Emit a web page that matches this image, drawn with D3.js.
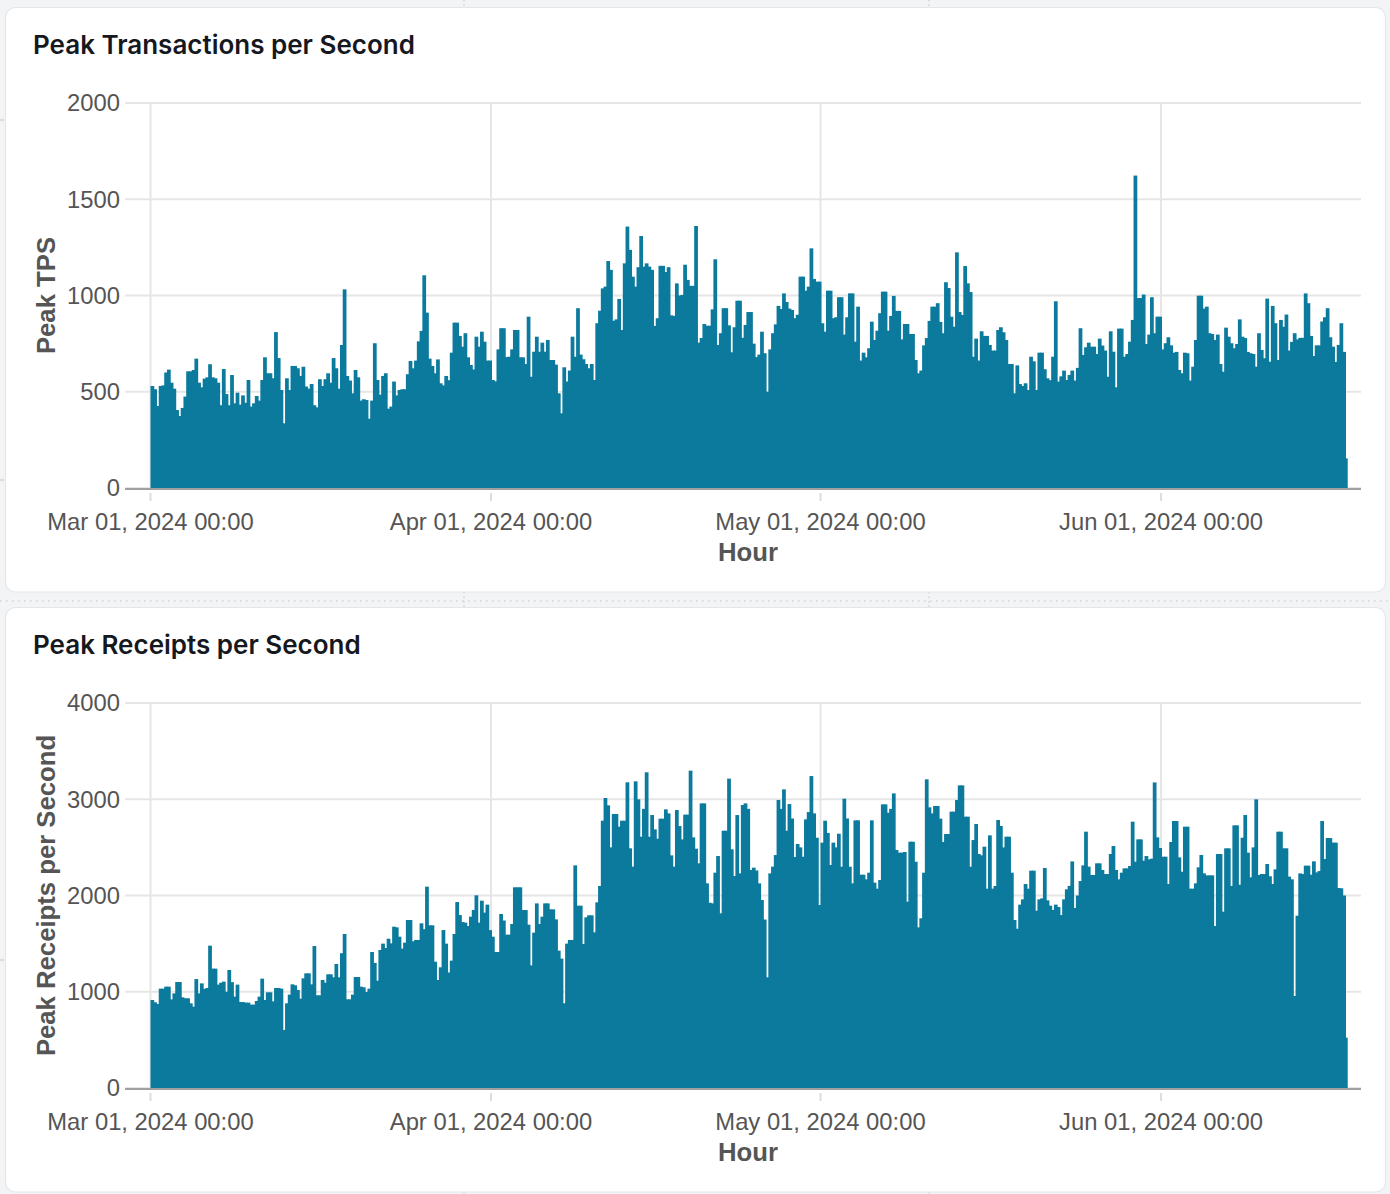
<!DOCTYPE html>
<html><head><meta charset="utf-8">
<script src="https://cdn.jsdelivr.net/npm/d3@7"></script>
<style>
html,body{margin:0;padding:0;background:#f3f4f6;}
svg{display:block;}
</style></head><body>
<svg id="chart" width="1390" height="1194"></svg>
<script>
// 6-hour bins starting 2024-03-01 00:00 UTC
const binHours = 6;
const seriesStart = "2024-03-01T00:00:00Z";

const tpsMar = [530,513,426,530,533,600,615,547,516,405,
374,416,475,606,606,613,672,547,523,568,
575,643,575,570,547,430,618,488,430,587,
440,495,433,481,443,561,423,440,478,454,
561,679,596,596,570,810,675,509,336,570,
509,634,634,622,582,630,527,516,540,430,
419,565,530,565,596,547,675,622,516,743,
1032,582,558,492,613,575,454,461,457,360,
454,752,561,485,582,596,412,423,553,481,
509,513,513,591,660,622,662,762,816,1105,
911,672,634,596,668,544,533,582,560,703,
859,859,790,734,804,679,639,616,786,734,
812,760,662,662];
const tpsApr = [561,554,720,830,830,680,
682,720,821,821,679,679,644,890,578,708,
786,708,755,708,769,665,665,641,492,388,
627,553,610,786,682,934,693,669,644,622,
644,561,856,921,1037,1046,1179,1133,869,876,
982,821,1167,1358,1237,1098,1046,1147,1309,1150,
1167,1150,1133,842,882,1154,1154,1122,1147,897,
894,1063,1000,1003,1160,1081,1050,1050,1361,755,
779,852,843,843,928,1188,743,804,934,934,
845,705,835,973,973,
780,847,914,914,750,
680,693,812,700,500,720,804,850,946,930,
1011,966,932,925,882,900,1098,1098,1025,1046,
1245,1086,1072,1072];
const tpsMay = [856,812,1025,1025,882,887,
991,991,797,887,1011,1011,760,942,662,703,
679,726,864,769,817,908,1020,1020,817,894,
998,920,920,772,852,852,800,800,665,596,
610,741,779,868,942,942,960,863,804,1069,
1039,890,838,1224,914,899,1153,1063,1018,682,
776,662,814,790,790,743,714,714,821,835,
809,769,644,644,492,637,540,530,544,509,
682,658,509,703,
703,617,570,560,682,970,
553,580,610,561,587,610,558,624,830,691,
731,755,734,734,696,776,740,714,578,814,
708,523,828,828,682,696,760,873,1623,987,
987,1005,748,797,991,804,890,890];
const tpsJun = [720,752,
783,741,703,707,613,596,703,700,558,630,
769,999,999,932,942,804,800,769,797,644,
604,833,786,752,726,748,876,786,779,707,
700,696,630,804,717,674,984,656,946,856,
665,873,838,901,714,759,804,772,
780,780,1011,960,790,686,741,741,865,887,934,
783,734,655,743,856,707,154];

const rpsMar = [914,890,873,1032,1032,1053,1053,921,983,1101,
1101,942,932,932,880,845,1132,983,1087,1030,
1039,1479,1240,1240,1074,1094,1105,1000,1226,1100,
949,1074,893,893,887,887,866,866,904,949,
1136,914,994,994,900,1039,1039,1032,603,880,
970,1077,1067,1018,928,1139,1191,1191,1077,1475,
963,963,1122,1094,1181,1181,1150,1288,1150,1400,
1600,921,921,970,1153,1153,1053,1046,997,1032,
1413,1300,1115,1434,1500,1454,1551,1503,1676,1669,
1572,1448,1510,1745,1745,1524,1538,1538,1711,1650,
2092,1690,1690,1312,1122,1254,1641,1500,1200,1323,
1600,1932,1797,1724,1718,1683,1780,1850,2002,1718,
1946,1822,1905,1640];
const rpsApr = [1572,1413,1413,1808,1740,1593,
1593,1704,2085,2085,2085,1849,1849,1697,1274,1614,
1918,1704,1780,1918,1918,1856,1856,1752,1427,1344,
880,1500,1538,1538,2313,1894,1894,1496,1773,1794,
1794,1617,1929,2099,2777,3013,2937,2500,2847,2847,
2715,2777,2777,3176,2490,2300,3186,2999,2611,2900,
3280,2611,2836,2687,2590,2798,2798,2895,2853,2417,
2300,2888,2722,2583,2840,2840,3297,2604,2486,2334,
2957,2957,2126,1925,1918,2237,2410,1815,2673,2673,
3214,2480,2202,2836,2230,
2940,2957,2900,2265,2289,
2260,2126,1953,1750,1150,2230,2300,2420,2992,2900,
3103,2673,2950,2800,2400,2535,2500,2403,2791,2867,
3241,2853,2600,1901];
const rpsMay = [2549,2777,2650,2317,2549,2500,
2642,2299,3006,2800,2299,2126,2781,2781,2216,2216,
2168,2237,2781,2133,2071,2161,2947,2947,2860,2900,
3061,2473,2445,2445,2452,1936,2559,2559,2351,1669,
1763,2237,3207,2916,2853,2930,2930,2798,2556,2639,
2639,2871,2871,2992,3144,3144,2819,2819,2299,2576,
2743,2431,2417,2507,2071,2625,2071,2099,2784,2722,
2500,2611,2611,2237,1745,1655,1905,1960,2119,2071,
2258,2258,1842,1960,
1970,2286,1950,1894,1850,1905,
1880,1797,1960,2064,2100,2354,1870,2000,2150,2313,
2663,2300,2213,2213,2334,2334,2265,2223,2223,2431,
2514,2265,2168,2237,2282,2282,2306,2767,2351,2583,
2583,2362,2410,2376,2383,3175,2604,2493];
const rpsJun = [2403,2403,
2119,2556,2774,2774,2396,2247,2715,2715,2071,2071,
2126,2293,2421,2230,2209,2209,2209,1683,2431,2431,
1832,2490,2490,2100,2729,2729,2112,2600,2836,2445,
2189,2500,2999,2213,2223,2223,2327,2200,2119,2272,
2663,2663,2490,2490,2196,2168,956,1790,2230,2223,
2310,2310,2216,2355,2240,2254,2774,2379,2597,2597,
2549,2549,2078,2075,2000,523];

const monthTicks = ["2024-03-01T00:00:00Z","2024-04-01T00:00:00Z","2024-05-01T00:00:00Z","2024-06-01T00:00:00Z"];
const tpsTicks = [0,500,1000,1500,2000];
const rpsTicks = [0,1000,2000,3000,4000];
const titles = ["Peak Transactions per Second","Peak Receipts per Second"];
const yTitles = ["Peak TPS","Peak Receipts per Second"];
const xTitle = "Hour";

const panels = [
  {title: titles[0], yTitle: yTitles[0], values: [...tpsMar,...tpsApr,...tpsMay,...tpsJun], ticks: tpsTicks},
  {title: titles[1], yTitle: yTitles[1], values: [...rpsMar,...rpsApr,...rpsMay,...rpsJun], ticks: rpsTicks}
];

const svg = d3.select("#chart");
const W = 1390, H = 1194;
const barColor = "#0b7a9d";
const gridColor = "#e6e6e6";
const labelColor = "#555555";
const tickFont = "'Liberation Sans', Arial, Helvetica, sans-serif";

// background decorations (dashboard grid)
const deco = svg.append("g");
deco.append("line").attr("x1",0).attr("x2",W).attr("y1",601).attr("y2",601)
  .attr("stroke","#cfd3d9").attr("stroke-width",1.5).attr("stroke-dasharray","1.5 4.5");
[464, 929].forEach(xx=>{
  [[0,7],[592,607],[1192,1194]].forEach(([a,b])=>{
    deco.append("line").attr("x1",xx).attr("x2",xx).attr("y1",a).attr("y2",b)
      .attr("stroke","#cfd3d9").attr("stroke-width",1.5).attr("stroke-dasharray","1.5 3");
  });
});
[120,480,960].forEach(yy=>{
  deco.append("line").attr("x1",0).attr("x2",4).attr("y1",yy).attr("y2",yy)
    .attr("stroke","#cfd3d9").attr("stroke-width",1.5);
});

const t0 = new Date(seriesStart);
const step = binHours*3600*1000;

// x scale: Mar 01 -> 150.5, Jun 01 -> 1161, extended to plot edges
const plotL = 125, plotR = 1361;
const xBase = d3.scaleUtc().domain([new Date(monthTicks[0]), new Date(monthTicks[3])]).range([150.5,1161]);
const x = d3.scaleUtc().domain([xBase.invert(plotL), xBase.invert(plotR)]).range([plotL, plotR]);
const fmt = d3.utcFormat("%b %d, %Y %H:%M");

panels.forEach((p, k) => {
  const oy = k*600;
  const g = svg.append("g");
  g.append("rect").attr("x",5.5).attr("y",7.5+oy).attr("width",1380).attr("height",584.5)
    .attr("rx",10).attr("fill","#ffffff").attr("stroke","#e3e6ea").attr("stroke-width",1.2);
  g.append("text").attr("x",33).attr("y",54+oy).text(p.title)
    .attr("font-family","Inter, 'Noto Sans', sans-serif").attr("font-weight",600)
    .attr("font-size",26).attr("fill","#15181e");

  const top = 103+oy, bottom = 488+oy;
  const y = d3.scaleLinear().domain([0, d3.max(p.ticks)]).range([bottom, top]);

  // y grid
  g.append("g").selectAll("line").data(p.ticks).join("line")
    .attr("x1",plotL).attr("x2",plotR).attr("y1",d=>y(d)).attr("y2",d=>y(d))
    .attr("stroke",gridColor).attr("stroke-width",2);
  // x grid
  const mt = monthTicks.map(s=>new Date(s));
  g.append("g").selectAll("line").data(mt).join("line")
    .attr("x1",d=>x(d)).attr("x2",d=>x(d)).attr("y1",top).attr("y2",bottom)
    .attr("stroke",gridColor).attr("stroke-width",2);

  // bars (slight overlap so adjacent bars join without seams)
  const data = p.values.map((v,i)=>({t:new Date(t0.getTime()+i*step), v}));
  g.append("g").selectAll("rect").data(data).join("rect")
    .attr("x",d=>x(d.t))
    .attr("width",(d,i)=>x(new Date(d.t.getTime()+step))-x(d.t)+(i<data.length-1?1:0))
    .attr("y",d=>y(d.v))
    .attr("height",d=>bottom-y(d.v))
    .attr("fill",barColor);

  // domain line
  g.append("line").attr("x1",plotL).attr("x2",plotR).attr("y1",bottom+1).attr("y2",bottom+1)
    .attr("stroke","#a0a0a0").attr("stroke-width",2);
  // x ticks
  g.append("g").selectAll("line").data(mt).join("line")
    .attr("x1",d=>x(d)).attr("x2",d=>x(d)).attr("y1",bottom+5).attr("y2",bottom+13)
    .attr("stroke","#dddddd").attr("stroke-width",2);
  // x tick labels
  g.append("g").selectAll("text").data(mt).join("text")
    .attr("x",d=>x(d)).attr("y",bottom+41.5).attr("text-anchor","middle")
    .attr("font-family",tickFont).attr("font-size",23.8).attr("fill",labelColor)
    .text(d=>fmt(d));
  // y tick labels
  g.append("g").selectAll("text").data(p.ticks).join("text")
    .attr("x",120).attr("y",d=>y(d)).attr("dy","0.355em").attr("text-anchor","end")
    .attr("font-family",tickFont).attr("font-size",23.8).attr("fill",labelColor)
    .text(d=>d);
  // axis titles
  g.append("text").attr("x",748).attr("y",bottom+73).attr("text-anchor","middle")
    .attr("font-family",tickFont).attr("font-weight","bold").attr("font-size",25.7)
    .attr("fill",labelColor).text(xTitle);
  g.append("text").attr("transform",`translate(55,${(top+bottom)/2}) rotate(-90)`)
    .attr("text-anchor","middle")
    .attr("font-family",tickFont).attr("font-weight","bold").attr("font-size",25.7)
    .attr("fill",labelColor).text(p.yTitle);
});
</script>
</body></html>
